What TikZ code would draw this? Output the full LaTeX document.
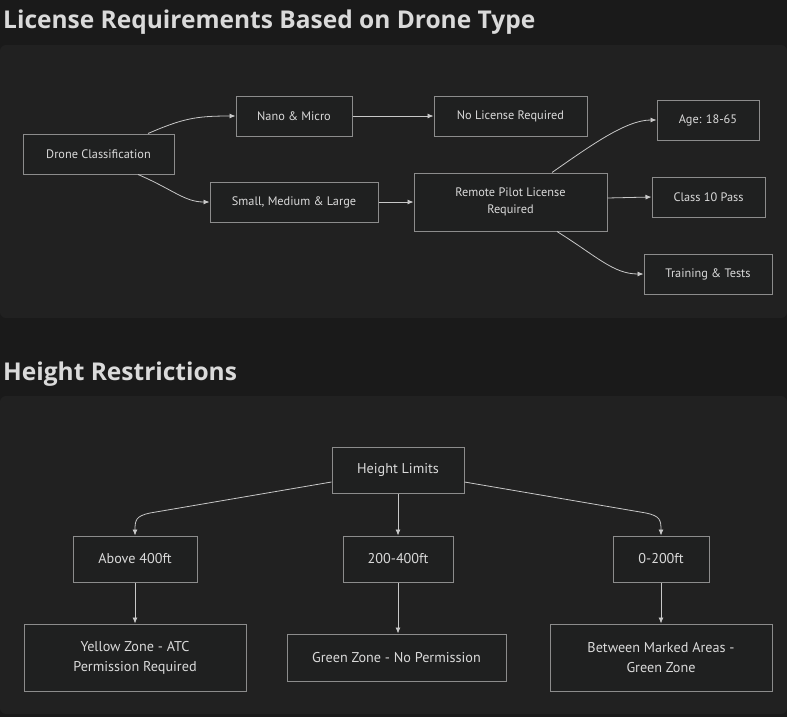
\documentclass[tikz,border=0pt]{standalone}
\usepackage{fontspec}
\setmainfont{PT Sans}
\newfontfamily\titlefont{Open Sans}
\usetikzlibrary{arrows.meta,calc}
\definecolor{pagebg}{HTML}{1A1A1A}
\definecolor{panelbg}{HTML}{212121}
\definecolor{nodefill}{HTML}{1F2020}
\definecolor{nodeline}{HTML}{8C8C8C}
\definecolor{txt}{HTML}{DADADA}
\definecolor{edge}{HTML}{C8C8C8}
\tikzset{
  box/.style={draw=nodeline, line width=1pt, fill=nodefill, text=txt, inner sep=0pt, align=center, font=\fontsize{12.3}{17}\selectfont},
  bbox/.style={box, font=\fontsize{14.2}{20}\selectfont},
  conn/.style={draw=edge, line width=0.8pt, -{Latex[length=6pt,width=5pt]}},
  ttl/.style={anchor=base west, inner sep=0pt, text=txt, font=\titlefont\bfseries\fontsize{24.5}{30}\selectfont},
}
\begin{document}
\begin{tikzpicture}[x=1pt,y=-1pt]
\fill[pagebg] (0,0) rectangle (787,717);
\useasboundingbox (0,0) rectangle (787,717);
\fill[panelbg, rounded corners=6pt] (0,45) rectangle (787,318);
\fill[panelbg, rounded corners=6pt] (0,396) rectangle (787,714);
\node[ttl] (t1) at (3,29) {License Requirements Based on Drone Type};
\node[ttl] (t2) at (3,380) {Height Restrictions};
% top diagram
\node[box, minimum width=151pt, minimum height=40pt] (dc) at (98.5,154) {Drone Classification};
\node[box, minimum width=116pt, minimum height=40pt] (nm) at (294,116) {Nano \& Micro};
\node[box, minimum width=153pt, minimum height=40pt] (nl) at (510.5,116) {No License Required};
\node[box, minimum width=168pt, minimum height=40pt] (sm) at (294,202) {Small, Medium \& Large};
\node[box, minimum width=193pt, minimum height=58pt] (rp) at (510.5,202) {Remote Pilot License\\Required};
\node[box, minimum width=102pt, minimum height=40pt] (age) at (708,120) {Age: 18-65};
\node[box, minimum width=113pt, minimum height=40pt] (cls) at (708.5,197) {Class 10 Pass};
\node[box, minimum width=128pt, minimum height=40pt] (trn) at (708,274) {Training \& Tests};
\draw[conn] ([xshift=49.5pt]dc.north) .. controls +(35,-15) and +(-40,0) .. (nm.west);
\draw[conn] ([xshift=39.5pt]dc.south) .. controls +(35,15) and +(-25,0) .. (sm.west);
\draw[conn] (nm.east) -- (nl.west);
\draw[conn] (sm.east) -- (rp.west);
\draw[conn] ([xshift=41.5pt]rp.north) .. controls +(40,-28) and +(-30,0) .. (age.west);
\draw[conn] ([yshift=4pt]rp.east) -- ([yshift=0pt]cls.west);
\draw[conn] ([xshift=46.5pt]rp.south) .. controls +(40,25) and +(-30,0) .. (trn.west);
% bottom diagram
\node[bbox, minimum width=132pt, minimum height=46pt] (hl) at (398,470) {Height Limits};
\node[bbox, minimum width=124pt, minimum height=46pt] (a4) at (135,559) {Above 400ft};
\node[bbox, minimum width=110pt, minimum height=46pt] (m4) at (398,559) {200-400ft};
\node[bbox, minimum width=96pt, minimum height=46pt] (z2) at (661,559) {0-200ft};
\node[bbox, minimum width=222pt, minimum height=67pt] (yz) at (135,657.5) {Yellow Zone - ATC\\Permission Required};
\node[bbox, minimum width=219pt, minimum height=47pt] (gz) at (396.5,657.5) {Green Zone - No Permission};
\node[bbox, minimum width=222pt, minimum height=67pt] (bm) at (661,657.5) {Between Marked Areas -\\Green Zone};
\draw[conn] ([yshift=-12pt]hl.west) -- (150,513) .. controls (136,516) and (135,520) .. (a4.north);
\draw[conn] ([yshift=-12pt]hl.east) -- (646,513) .. controls (660,516) and (661,520) .. (z2.north);
\draw[conn] (hl.south) -- (m4.north);
\draw[conn] (a4.south) -- (yz.north);
\draw[conn] (m4.south) -- (gz.north -| m4.south);
\draw[conn] (z2.south) -- (bm.north);
\end{tikzpicture}
\end{document}
